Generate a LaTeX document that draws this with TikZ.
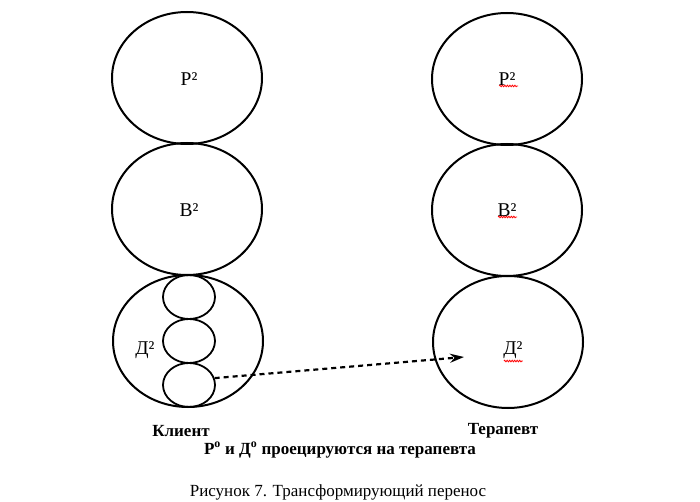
\documentclass[tikz,border=0pt]{standalone}
\usepackage{fontspec}
\setmainfont{Liberation Serif}
\usetikzlibrary{arrows.meta,shapes.geometric,decorations.pathmorphing}

\tikzset{
  bigball/.style={draw,ellipse,line width=2pt,minimum width=150pt,minimum height=132pt,inner sep=0pt},
  smallball/.style={draw,ellipse,line width=1.8pt,minimum width=52pt,minimum height=44pt,inner sep=0pt},
  lbl/.style={font=\fontsize{19.5}{21}\selectfont},
  bold/.style={font=\fontsize{17}{19}\selectfont\bfseries},
  squig/.style={red,line width=0.8pt,decorate,decoration={snake,segment length=2.5pt,amplitude=0.8pt}}
}

\begin{document}
\begin{tikzpicture}[x=1pt,y=-1pt]
            \useasboundingbox (0,0) rectangle (700,502);
            % client
            \node[bigball] (kp) at (187,78) {};
            \node[bigball] (kv) at (187,209) {};
            \node[bigball] (kd) at (188,341) {};
            \node[lbl] (kpl) at (189,79) {Р²};
            \node[lbl] (kvl) at (189,210) {В²};
            \node[lbl] (kdl) at (145,350) {Д²};
            \node[smallball] (s1) at (189,297) {};
            \node[smallball] (s2) at (189,341) {};
            \node[smallball] (s3) at (189,385) {};

            % therapist
            \node[bigball] (tp) at (507,79) {};
            \node[bigball] (tv) at (507,210) {};
            \node[bigball] (td) at (508,342) {};
            \node[lbl] (tpl) at (507,79) {Р²};
            \node[lbl] (tvl) at (507,210) {В²};
            \node[lbl] (tdl) at (513,350) {Д²};
            \draw[squig] (tpl.south west) ++(4,-3) -- ++(19,0);
            \draw[squig] (tvl.south west) ++(4,-3) -- ++(19,0);
            \draw[squig] (tdl.south west) ++(4,-1) -- ++(19,0);

            % transfer
            \coordinate (tip) at (464,357);
            \draw[line width=2.2pt,dash pattern=on 5pt off 4pt,-{Stealth[length=14pt,width=9pt]}] (s3.15) -- (tip);

            \node[bold] (klient) at (181,431) {Клиент};
            \node[bold] (terap) at (503,431) {Терапевт};
            \node[bold] (proj) at (340,450) {Р\textsuperscript{o} и Д\textsuperscript{o} проецируются на терапевта};
            \node[font=\fontsize{17}{19}\selectfont] (cap) at (338,492) {Рисунок 7. Трансформирующий перенос};
        \end{tikzpicture}
\end{document}
